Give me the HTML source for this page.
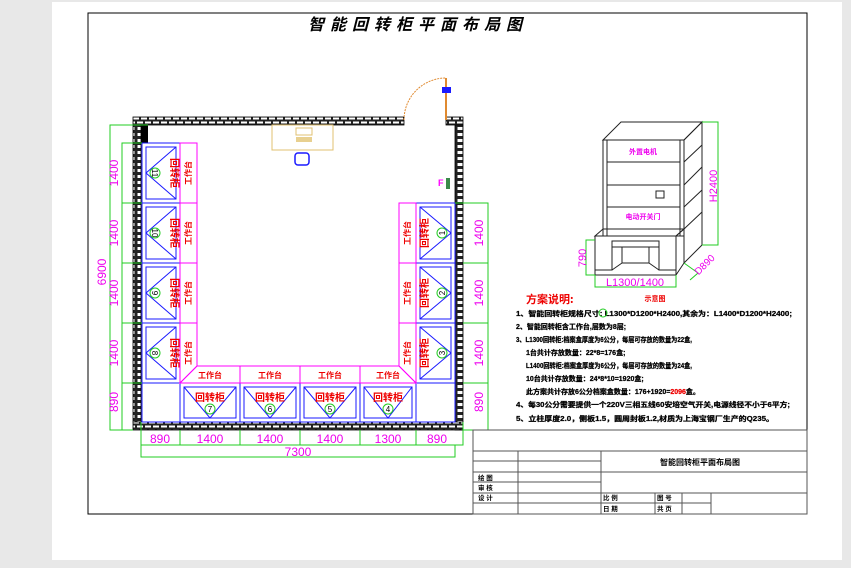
<!DOCTYPE html>
<html><head><meta charset="utf-8"><style>
html,body{margin:0;padding:0;background:#e8e8e8;}
svg{display:block}
text{font-family:"Liberation Sans","Noto Sans CJK SC",sans-serif;}
.c{font-family:"Noto Sans CJK SC","WenQuanYi Zen Hei",sans-serif;font-weight:bold}
</style></head><body>
<svg width="851" height="568" viewBox="0 0 851 568" xmlns="http://www.w3.org/2000/svg">
<defs>
<pattern id="bh" width="8" height="8" patternUnits="userSpaceOnUse">
<rect width="8" height="8" fill="#222"/>
<rect x="1" y="1.5" width="6" height="2" fill="#fff"/>
<rect x="-3" y="5.5" width="6" height="2" fill="#fff"/><rect x="5" y="5.5" width="6" height="2" fill="#fff"/>
</pattern>
<pattern id="bv" width="8" height="6" patternUnits="userSpaceOnUse">
<rect width="8" height="6" fill="#222"/>
<rect x="1.5" y="1" width="5" height="3" fill="#fff"/>
</pattern>
</defs>
<rect x="0" y="0" width="851" height="568" fill="#e8e8e8"/>
<rect x="52" y="2" width="790" height="558" fill="#fff"/>
<rect x="88" y="13" width="719" height="501" fill="none" stroke="#000" stroke-width="1"/>
<text x="418" y="30" class="c" font-size="16" text-anchor="middle" font-style="italic" letter-spacing="6">智能回转柜平面布局图</text>

<rect x="133" y="117" width="271" height="8" fill="url(#bh)" stroke="#000" stroke-width="0.8"/>
<rect x="446" y="117" width="17" height="8" fill="url(#bh)" stroke="#000" stroke-width="0.8"/>
<rect x="455" y="125" width="8" height="305" fill="url(#bv)" stroke="#000" stroke-width="0.8"/>
<rect x="133" y="125" width="8" height="297" fill="url(#bv)" stroke="#000" stroke-width="0.8"/>
<rect x="133" y="422" width="330" height="8" fill="url(#bh)" stroke="#000" stroke-width="0.8"/>
<rect x="141" y="125" width="7" height="18" fill="#000"/>
<path d="M404 120 A42 42 0 0 1 446 78" fill="none" stroke="#e08a30" stroke-dasharray="2,1" stroke-width="1"/>
<line x1="446" y1="78" x2="446" y2="120" stroke="#e08a30" stroke-width="2"/>
<rect x="442" y="87" width="9" height="6" fill="#1a1aff"/>
<rect x="272" y="125" width="61" height="25" fill="none" stroke="#e0c070" stroke-width="1"/>
<rect x="296" y="128" width="16" height="7" fill="none" stroke="#e0c070"/>
<rect x="296" y="137" width="16" height="5" fill="#e8d090"/>
<rect x="295" y="153" width="14" height="12" rx="3" fill="none" stroke="#1a1aff" stroke-width="1.5"/>
<text x="438" y="186" font-size="9" fill="#f0f" font-weight="bold">F</text>
<rect x="446" y="178" width="4" height="11" fill="#3a8a4a"/>

<g stroke="#1a1aff" fill="none">
<rect x="142" y="143" width="38" height="240"/>
<rect x="142" y="383" width="38" height="39"/>
<rect x="416" y="203" width="39" height="180"/>
<rect x="416" y="383" width="39" height="39"/>
<rect x="180" y="383" width="236" height="39"/>
</g>
<g stroke="#1a1aff" stroke-width="1" fill="none">
<line x1="142" y1="203" x2="180" y2="203"/><line x1="142" y1="263" x2="180" y2="263"/><line x1="142" y1="323" x2="180" y2="323"/>
<line x1="416" y1="263" x2="455" y2="263"/><line x1="416" y1="323" x2="455" y2="323"/>
<line x1="240" y1="383" x2="240" y2="422"/><line x1="300" y1="383" x2="300" y2="422"/><line x1="360" y1="383" x2="360" y2="422"/>
<rect x="146" y="147" width="30" height="52"/><path d="M176 147 L146 173 L176 199"/>
<rect x="146" y="207" width="30" height="52"/><path d="M176 207 L146 233 L176 259"/>
<rect x="146" y="267" width="30" height="52"/><path d="M176 267 L146 293 L176 319"/>
<rect x="146" y="327" width="30" height="52"/><path d="M176 327 L146 353 L176 379"/>
<rect x="420" y="207" width="31" height="52"/><path d="M420 207 L451 233 L420 259"/>
<rect x="420" y="267" width="31" height="52"/><path d="M420 267 L451 293 L420 319"/>
<rect x="420" y="327" width="31" height="52"/><path d="M420 327 L451 353 L420 379"/>
<rect x="184" y="387" width="52" height="31"/><path d="M184 387 L210 418 L236 387"/>
<rect x="244" y="387" width="52" height="31"/><path d="M244 387 L270 418 L296 387"/>
<rect x="304" y="387" width="52" height="31"/><path d="M304 387 L330 418 L356 387"/>
<rect x="364" y="387" width="48" height="31"/><path d="M364 387 L388 418 L412 387"/>
</g>
<g stroke="#f0f" fill="none">
<path d="M180 143 H197 V366 L180 383 Z"/>
<line x1="180" y1="203" x2="197" y2="203"/><line x1="180" y1="263" x2="197" y2="263"/><line x1="180" y1="323" x2="197" y2="323"/>
<path d="M399 203 H416 V383 L399 366 Z"/>
<line x1="399" y1="263" x2="416" y2="263"/><line x1="399" y1="323" x2="416" y2="323"/>
<path d="M197 366 H399 L416 383 H180 Z"/>
<line x1="240" y1="366" x2="240" y2="383"/><line x1="300" y1="366" x2="300" y2="383"/><line x1="360" y1="366" x2="360" y2="383"/>
</g>
<g class="c" fill="#e00" font-size="8">
<text transform="translate(191,173) rotate(-90)" text-anchor="middle">工作台</text>
<text transform="translate(191,233) rotate(-90)" text-anchor="middle">工作台</text>
<text transform="translate(191,293) rotate(-90)" text-anchor="middle">工作台</text>
<text transform="translate(191,353) rotate(-90)" text-anchor="middle">工作台</text>
<text transform="translate(410,233) rotate(-90)" text-anchor="middle">工作台</text>
<text transform="translate(410,293) rotate(-90)" text-anchor="middle">工作台</text>
<text transform="translate(410,353) rotate(-90)" text-anchor="middle">工作台</text>
<text x="210" y="378" text-anchor="middle">工作台</text><text x="270" y="378" text-anchor="middle">工作台</text>
<text x="330" y="378" text-anchor="middle">工作台</text><text x="388" y="378" text-anchor="middle">工作台</text>
</g>
<g class="c" fill="#e00" font-size="10">
<text transform="translate(171,173) rotate(90)" text-anchor="middle">回转柜</text>
<text transform="translate(171,233) rotate(90)" text-anchor="middle">回转柜</text>
<text transform="translate(171,293) rotate(90)" text-anchor="middle">回转柜</text>
<text transform="translate(171,353) rotate(90)" text-anchor="middle">回转柜</text>
<text transform="translate(428,233) rotate(-90)" text-anchor="middle">回转柜</text>
<text transform="translate(428,293) rotate(-90)" text-anchor="middle">回转柜</text>
<text transform="translate(428,353) rotate(-90)" text-anchor="middle">回转柜</text>
<text x="210" y="401" text-anchor="middle">回转柜</text><text x="270" y="401" text-anchor="middle">回转柜</text>
<text x="330" y="401" text-anchor="middle">回转柜</text><text x="388" y="401" text-anchor="middle">回转柜</text>
</g>
<g stroke="#2c2" fill="none" stroke-width="1">
<circle cx="155" cy="173" r="5"/><circle cx="155" cy="233" r="5"/><circle cx="155" cy="293" r="5"/><circle cx="155" cy="353" r="5"/>
<circle cx="442" cy="233" r="5"/><circle cx="442" cy="293" r="5"/><circle cx="442" cy="353" r="5"/>
<circle cx="210" cy="409" r="5"/><circle cx="270" cy="409" r="5"/><circle cx="330" cy="409" r="5"/><circle cx="388" cy="409" r="5"/>
</g>
<g font-size="8" fill="#000" text-anchor="middle">
<text transform="translate(155,173) rotate(90)" dy="3">11</text><text transform="translate(155,233) rotate(90)" dy="3">10</text>
<text transform="translate(155,293) rotate(90)" dy="3">9</text><text transform="translate(155,353) rotate(90)" dy="3">8</text>
<text transform="translate(442,233) rotate(-90)" dy="3">1</text><text transform="translate(442,293) rotate(-90)" dy="3">2</text>
<text transform="translate(442,353) rotate(-90)" dy="3">3</text>
<text x="210" y="412">7</text><text x="270" y="412">6</text><text x="330" y="412">5</text><text x="388" y="412">4</text>
</g>

<g stroke="#2c2" fill="none" stroke-width="1">
<path d="M148 125 H110 V430 H133"/>
<path d="M142 143 H122 V430"/>
<line x1="122" y1="203" x2="142" y2="203"/><line x1="122" y1="263" x2="142" y2="263"/><line x1="122" y1="323" x2="142" y2="323"/><line x1="122" y1="383" x2="142" y2="383"/>
<path d="M455 203 H488 V430 H463"/>
<line x1="463" y1="263" x2="488" y2="263"/><line x1="463" y1="323" x2="488" y2="323"/><line x1="463" y1="383" x2="488" y2="383"/>
<path d="M141 422 V445 H463 V422"/>
<line x1="180" y1="430" x2="180" y2="445"/><line x1="240" y1="430" x2="240" y2="445"/><line x1="300" y1="430" x2="300" y2="445"/><line x1="360" y1="430" x2="360" y2="445"/><line x1="416" y1="430" x2="416" y2="445"/>
<path d="M141 445 V457 H455 V445"/>
</g>
<g fill="#e0e" font-size="12" text-anchor="middle">
<text transform="translate(118,173) rotate(-90)">1400</text><text transform="translate(118,233) rotate(-90)">1400</text>
<text transform="translate(118,293) rotate(-90)">1400</text><text transform="translate(118,353) rotate(-90)">1400</text>
<text transform="translate(118,402) rotate(-90)">890</text>
<text transform="translate(106,272) rotate(-90)">6900</text>
<text transform="translate(483,233) rotate(-90)">1400</text><text transform="translate(483,293) rotate(-90)">1400</text>
<text transform="translate(483,353) rotate(-90)">1400</text><text transform="translate(483,402) rotate(-90)">890</text>
<text x="160" y="443">890</text><text x="210" y="443">1400</text><text x="270" y="443">1400</text><text x="330" y="443">1400</text><text x="388" y="443">1300</text><text x="437" y="443">890</text>
<text x="298" y="456">7300</text>
</g>

<g stroke="#222" fill="none" stroke-width="1">
<path d="M603 140 L621 122 H702 L684 140 Z"/>
<rect x="603" y="140" width="81" height="96"/>
<line x1="607" y1="140" x2="607" y2="236"/>
<line x1="680" y1="140" x2="680" y2="236"/>
<path d="M684 140 L702 122 V245 L684 263"/>
<line x1="607" y1="162" x2="680" y2="162"/><line x1="607" y1="185" x2="680" y2="185"/><line x1="607" y1="207" x2="680" y2="207"/>
<path d="M684 162 L702 145 M684 185 L702 167 M684 207 L702 190 M684 229 L702 212"/>
<rect x="656" y="191" width="8" height="7"/>
<path d="M595 236 L603 229 H684 L676 236 Z"/>
<rect x="595" y="236" width="81" height="39"/>
<rect x="612" y="241" width="47" height="6"/>
<rect x="622" y="247" width="27" height="16"/>
<path d="M612 247 V270 H595 M659 247 V270 H676 M612 270 L622 263 M659 270 L649 263"/>
<path d="M676 236 L684 229 V263 L676 275"/>
</g>
<text x="643" y="154" class="c" font-size="7" fill="#e0e" text-anchor="middle">外置电机</text>
<text x="643" y="219" class="c" font-size="7" fill="#e0e" text-anchor="middle">电动开关门</text>
<g stroke="#2c2" fill="none">
<path d="M702 122 H718 V245 H702"/>
<path d="M595 240 H586 V275 H595"/>
<path d="M595 275 V287 H676 V275"/>
<path d="M684 263 L698 273 L690 280"/>
</g>
<g fill="#e0e" font-size="11" text-anchor="middle">
<text transform="translate(717,186) rotate(-90)">H2400</text>
<text transform="translate(586,258) rotate(-90)">790</text>
<text x="635" y="286">L1300/1400</text>
<text transform="translate(707,267) rotate(-45)" font-size="10">D890</text>
</g>
<text x="655" y="301" class="c" font-size="7" fill="#e00" text-anchor="middle">示意图</text>

<text x="526" y="303" class="c" font-size="11" fill="#e00">方案说明:</text>
<g class="c" font-size="7" fill="#000" stroke="#000" stroke-width="0.25">
<text x="516" y="316" textLength="276" lengthAdjust="spacingAndGlyphs">1、智能回转柜规格尺寸:    L1300*D1200*H2400,其余为：L1400*D1200*H2400;</text>
<text x="516" y="329">2、智能回转柜含工作台,层数为8层;</text>
<text x="516" y="342" textLength="176" lengthAdjust="spacingAndGlyphs">3、L1300回转柜:档案盒厚度为6公分，每层可存放的数量为22盒,</text>
<text x="526" y="355">1台共计存放数量：22*8=176盒;</text>
<text x="526" y="368" textLength="166" lengthAdjust="spacingAndGlyphs">L1400回转柜:档案盒厚度为6公分，每层可存放的数量为24盒,</text>
<text x="526" y="381">10台共计存放数量：24*8*10=1920盒;</text>
<text x="526" y="394">此方案共计存放6公分档案盒数量：176+1920=<tspan fill="#e00" stroke="#e00">2096</tspan>盒。</text>
<text x="516" y="407" textLength="274" lengthAdjust="spacingAndGlyphs">4、每30公分需要提供一个220V三相五线60安培空气开关,电源线径不小于6平方;</text>
<text x="516" y="421" textLength="258" lengthAdjust="spacingAndGlyphs">5、立柱厚度2.0，侧板1.5，圆周封板1.2,材质为上海宝钢厂生产的Q235。</text>
</g>
<circle cx="603" cy="313" r="4" fill="none" stroke="#2c2"/>

<g stroke="#555" fill="none" stroke-width="1">
<rect x="473" y="430" width="334" height="84"/>
<line x1="473" y1="451" x2="807" y2="451"/>
<line x1="473" y1="461" x2="601" y2="461"/>
<line x1="473" y1="472" x2="807" y2="472"/>
<line x1="473" y1="482" x2="601" y2="482"/>
<line x1="473" y1="493" x2="807" y2="493"/>
<line x1="473" y1="503" x2="711" y2="503"/>
<line x1="518" y1="451" x2="518" y2="514"/>
<line x1="601" y1="451" x2="601" y2="514"/>
<line x1="655" y1="493" x2="655" y2="514"/>
<line x1="682" y1="493" x2="682" y2="514"/>
<line x1="711" y1="493" x2="711" y2="514"/>
</g>
<text x="700" y="465" class="c" font-size="8" text-anchor="middle">智能回转柜平面布局图</text>
<g class="c" font-size="6.5">
<text x="478" y="480">绘  图</text><text x="478" y="490">审  核</text><text x="478" y="500">设  计</text>
<text x="603" y="500">比 例</text><text x="603" y="511">日 期</text>
<text x="657" y="500">图 号</text><text x="657" y="511">共 页</text>
</g>
</svg>
</body></html>
